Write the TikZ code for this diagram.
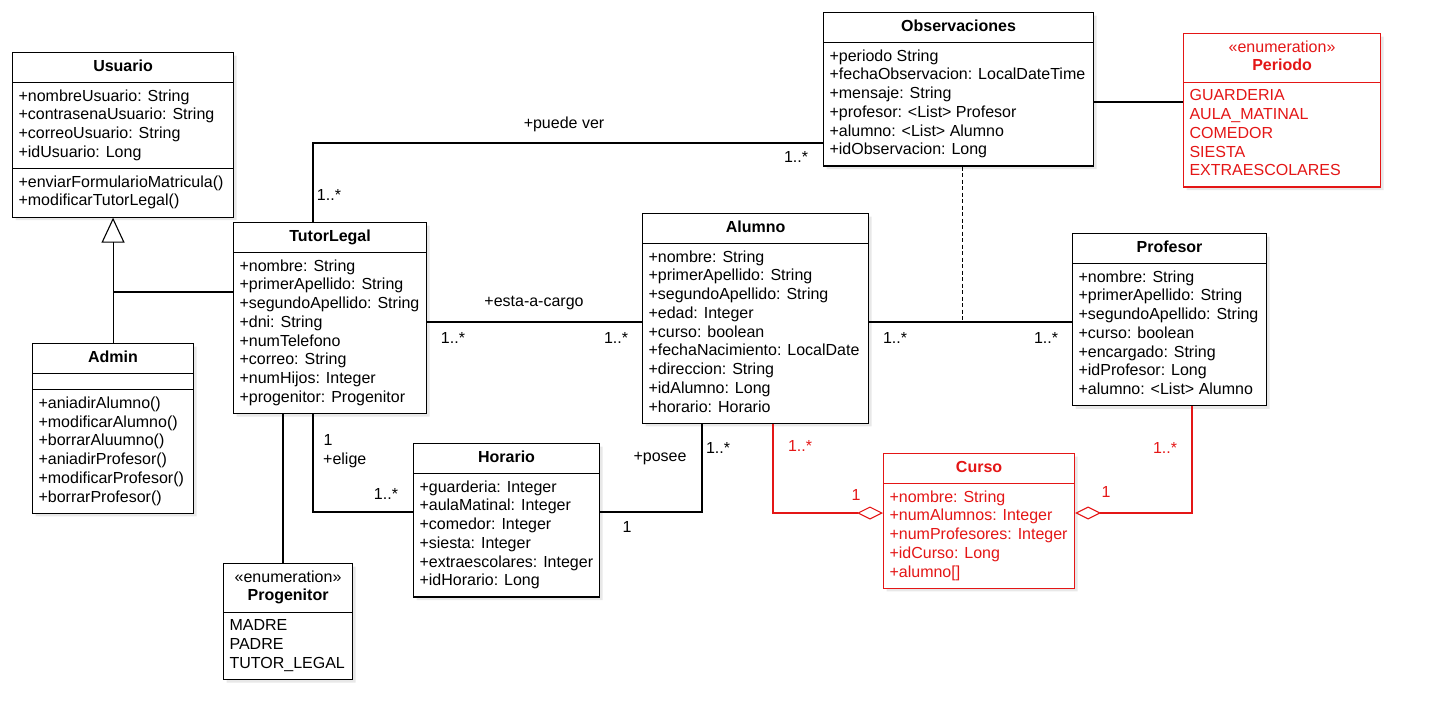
\documentclass[tikz,border=0pt]{standalone}
\usepackage{fontspec}
\setmainfont{Liberation Sans}
\usetikzlibrary{shapes.multipart,arrows.meta,shadows}

\definecolor{umlred}{RGB}{228,22,22}

\newcommand\rows[1]{\begin{tabular}{@{}l@{}}#1\end{tabular}}
\newcommand\head[1]{\begin{tabular}{@{}c@{}}#1\end{tabular}}

\tikzset{
  class/.style={rectangle split, rectangle split parts=#1, draw, fill=white,
    line width=1.1pt, anchor=north west, inner xsep=6pt, inner ysep=5pt,
    rectangle split part align={center,left,left},
    rectangle split empty part height=3pt, rectangle split empty part depth=0pt,
    drop shadow={shadow xshift=3pt, shadow yshift=-3pt, opacity=.18}},
  redclass/.style={class=2, draw=umlred, text=umlred},
  link/.style={line width=1.1pt},
  agg/.style={link, draw=umlred, {Diamond[open,length=26pt,width=13pt]}-},
  inherit/.style={link, -{Triangle[open,length=25pt,width=23pt]}},
  lbl/.style={inner sep=0pt}
}

\begin{document}
\begin{tikzpicture}[x=1pt,y=-1pt]
  \fontsize{16}{18.75}\selectfont
  \useasboundingbox (0,0) rectangle (1431,726);

  % classes
  \node[class=3, minimum width=221pt] (usuario) at (12,52)
    {\head{\textbf{Usuario}}
     \nodepart{two}\rows{+nombreUsuario: String\\+contrasenaUsuario: String\\+correoUsuario: String\\+idUsuario: Long}
     \nodepart{three}\rows{+enviarFormularioMatricula()\\+modificarTutorLegal()}};
  \node[class=2, minimum width=193pt] (tutor) at (233,222)
    {\head{\textbf{TutorLegal}}
     \nodepart{two}\rows{+nombre: String\\+primerApellido: String\\+segundoApellido: String\\+dni: String\\+numTelefono\\+correo: String\\+numHijos: Integer\\+progenitor: Progenitor}};
  \node[class=3, minimum width=161pt] (admin) at (32,343)
    {\head{\textbf{Admin}}
     \nodepart{two}
     \nodepart{three}\rows{+aniadirAlumno()\\+modificarAlumno()\\+borrarAluumno()\\+aniadirProfesor()\\+modificarProfesor()\\+borrarProfesor()}};
  \node[class=2, minimum width=129pt] (progenitor) at (223,563)
    {\head{«enumeration»\\\textbf{Progenitor}}
     \nodepart{two}\rows{MADRE\\PADRE\\TUTOR\_LEGAL}};
  \node[class=2, minimum width=186pt] (horario) at (413,443)
    {\head{\textbf{Horario}}
     \nodepart{two}\rows{+guarderia: Integer\\+aulaMatinal: Integer\\+comedor: Integer\\+siesta: Integer\\+extraescolares: Integer\\+idHorario: Long}};
  \node[class=2, minimum width=226pt] (alumno) at (642,213)
    {\head{\textbf{Alumno}}
     \nodepart{two}\rows{+nombre: String\\+primerApellido: String\\+segundoApellido: String\\+edad: Integer\\+curso: boolean\\+fechaNacimiento: LocalDate\\+direccion: String\\+idAlumno: Long\\+horario: Horario}};
  \node[class=2, minimum width=270pt] (obs) at (823,12)
    {\head{\textbf{Observaciones}}
     \nodepart{two}\rows{+periodo String\\+fechaObservacion: LocalDateTime\\+mensaje: String\\+profesor: <List> Profesor\\+alumno: <List> Alumno\\+idObservacion: Long}};
  \node[redclass, minimum width=197pt] (periodo) at (1183,33)
    {\head{«enumeration»\\\textbf{Periodo}}
     \nodepart{two}\rows{GUARDERIA\\AULA\_MATINAL\\COMEDOR\\SIESTA\\EXTRAESCOLARES}};
  \node[class=2, minimum width=194pt] (profesor) at (1072,233)
    {\head{\textbf{Profesor}}
     \nodepart{two}\rows{+nombre: String\\+primerApellido: String\\+segundoApellido: String\\+curso: boolean\\+encargado: String\\+idProfesor: Long\\+alumno: <List> Alumno}};
  \node[redclass, minimum width=191pt] (curso) at (883,453)
    {\head{\textbf{Curso}}
     \nodepart{two}\rows{+nombre: String\\+numAlumnos: Integer\\+numProfesores: Integer\\+idCurso: Long\\+alumno[]}};

  % connectors
  \draw[inherit] (admin.north) -- (admin.north |- usuario.south);
  \draw[link] (tutor.west |- 0,292) -- (admin.north |- 0,292);
  \draw[link] (tutor.north -| 313,0) |- (obs.west |- 0,143);
  \draw[link] (tutor.east |- 0,322) -- (alumno.west |- 0,322);
  \draw[link] (alumno.east |- 0,322) -- (profesor.west |- 0,322);
  \coordinate (obsjoin) at (962,322);
  \draw[line width=1pt, dash pattern=on 4pt off 2.5pt] (obs.south -| obsjoin) -- (obsjoin);
  \draw[link] (obs.east |- 0,102) -- (periodo.west |- 0,102);
  \draw[link] (tutor.south -| 283,0) -- (progenitor.north -| 283,0);
  \draw[link] (tutor.south -| 313,0) |- (horario.west |- 0,512);
  \draw[link] (horario.east |- 0,512) -| (alumno.south -| 702,0);
  \draw[agg] (curso.west |- 0,513) -| (alumno.south -| 773,0);
  \draw[agg] (curso.east |- 0,513) -| (profesor.south -| 1192,0);

  % labels
  \begin{scope}[every node/.style=lbl]
    \node (lblVer) at (564,124) {+puede ver};
    \node (mObsVer) at (796,157) {1..*};
    \node (mTutVer) at (329,195) {1..*};
    \node (lblCargo) at (534,303) {+esta-a-cargo};
    \node (mTutCargo) at (453,338) {1..*};
    \node (mAluCargo) at (616,338) {1..*};
    \node (mAluProf) at (895,338) {1..*};
    \node (mProfAlu) at (1046,338) {1..*};
    \node (mTutElige) at (328,440) {1};
    \node[anchor=west] (lblElige) at (323,460) {+elige};
    \node (mHorElige) at (386,494) {1..*};
    \node (lblPosee) at (660,459) {+posee};
    \node (mAluPosee) at (718,448) {1..*};
    \node (mHorPosee) at (627,527) {1};
  \end{scope}
  \begin{scope}[every node/.style={lbl, text=umlred}]
    \node (mAluCurso) at (800,446) {1..*};
    \node (mCursoAlu) at (856,495) {1};
    \node (mProfCurso) at (1165,448) {1..*};
    \node (mCursoProf) at (1106,492) {1};
  \end{scope}

\end{tikzpicture}
\end{document}
